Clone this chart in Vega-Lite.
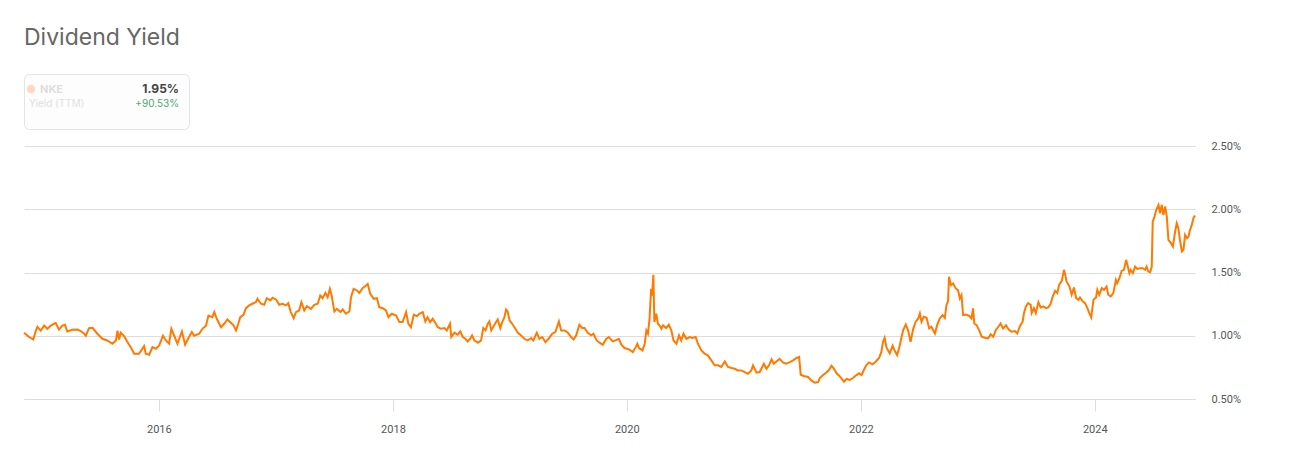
{
  "$schema": "https://vega.github.io/schema/vega-lite/v6.json",
  "background": "white",
  "padding": {"left": 20, "top": 26, "right": 10, "bottom": 10},
  "title": {"text": "Dividend Yield", "anchor": "start", "frame": "group", "fontSize": 23, "fontWeight": 400, "color": "#666666", "font": "Inter", "offset": 24},
  "config": {"view": {"stroke": null}, "font": "Roboto", "concat": {"spacing": 10}},
  "datasets": {
    "legend": [
      {"col": "left", "row": "top", "kind": "name", "text": "NKE"},
      {"col": "left", "row": "bottom", "kind": "sub", "text": "Yield (TTM)"},
      {"col": "right", "row": "top", "kind": "value", "text": "1.95%"},
      {"col": "right", "row": "bottom", "kind": "change", "text": "+90.53%"}
    ],
    "yield": [
      {"date": "2014-11-06", "y": 0.01024}, {"date": "2014-11-22", "y": 0.0099}, {"date": "2014-12-05", "y": 0.0097}, {"date": "2014-12-13", "y": 0.0104}, {"date": "2014-12-18", "y": 0.0107}, {"date": "2014-12-28", "y": 0.0104},
      {"date": "2015-01-08", "y": 0.0108}, {"date": "2015-01-18", "y": 0.01055}, {"date": "2015-01-29", "y": 0.0108}, {"date": "2015-02-08", "y": 0.01095}, {"date": "2015-02-13", "y": 0.011}, {"date": "2015-02-23", "y": 0.0105},
      {"date": "2015-03-06", "y": 0.0108}, {"date": "2015-03-14", "y": 0.01087}, {"date": "2015-03-21", "y": 0.01034}, {"date": "2015-04-06", "y": 0.01047}, {"date": "2015-04-22", "y": 0.0105}, {"date": "2015-05-02", "y": 0.01037},
      {"date": "2015-05-13", "y": 0.01016}, {"date": "2015-05-18", "y": 0.01}, {"date": "2015-05-28", "y": 0.0106}, {"date": "2015-06-08", "y": 0.01063}, {"date": "2015-06-23", "y": 0.01016}, {"date": "2015-07-09", "y": 0.00976},
      {"date": "2015-07-24", "y": 0.00963}, {"date": "2015-08-09", "y": 0.00937}, {"date": "2015-08-20", "y": 0.00963}, {"date": "2015-08-25", "y": 0.0104}, {"date": "2015-08-30", "y": 0.0097}, {"date": "2015-09-04", "y": 0.01024},
      {"date": "2015-09-14", "y": 0.01}, {"date": "2015-09-25", "y": 0.0095}, {"date": "2015-10-05", "y": 0.0091}, {"date": "2015-10-16", "y": 0.00858}, {"date": "2015-10-31", "y": 0.00858}, {"date": "2015-11-16", "y": 0.00918},
      {"date": "2015-11-21", "y": 0.00858}, {"date": "2015-12-02", "y": 0.0085}, {"date": "2015-12-12", "y": 0.0091}, {"date": "2015-12-23", "y": 0.00897}, {"date": "2016-01-02", "y": 0.00924}, {"date": "2016-01-14", "y": 0.01},
      {"date": "2016-01-23", "y": 0.00963}, {"date": "2016-02-02", "y": 0.00937}, {"date": "2016-02-09", "y": 0.01055}, {"date": "2016-02-18", "y": 0.01}, {"date": "2016-02-28", "y": 0.00937}, {"date": "2016-03-13", "y": 0.01034},
      {"date": "2016-03-23", "y": 0.0093}, {"date": "2016-04-02", "y": 0.0098}, {"date": "2016-04-13", "y": 0.0103}, {"date": "2016-04-20", "y": 0.01}, {"date": "2016-05-06", "y": 0.01016}, {"date": "2016-05-16", "y": 0.01055},
      {"date": "2016-05-27", "y": 0.0108}, {"date": "2016-06-04", "y": 0.0116}, {"date": "2016-06-16", "y": 0.01147}, {"date": "2016-06-22", "y": 0.01187}, {"date": "2016-06-30", "y": 0.01134}, {"date": "2016-07-13", "y": 0.01068},
      {"date": "2016-07-23", "y": 0.01095}, {"date": "2016-08-02", "y": 0.01129}, {"date": "2016-08-13", "y": 0.01103}, {"date": "2016-08-21", "y": 0.01082}, {"date": "2016-08-29", "y": 0.01042}, {"date": "2016-09-05", "y": 0.01095},
      {"date": "2016-09-11", "y": 0.01147}, {"date": "2016-09-21", "y": 0.01166}, {"date": "2016-09-29", "y": 0.01218}, {"date": "2016-10-09", "y": 0.0124}, {"date": "2016-10-19", "y": 0.01253}, {"date": "2016-10-30", "y": 0.01266},
      {"date": "2016-11-04", "y": 0.01292}, {"date": "2016-11-15", "y": 0.01253}, {"date": "2016-11-25", "y": 0.01245}, {"date": "2016-12-03", "y": 0.01297}, {"date": "2016-12-14", "y": 0.01279}, {"date": "2016-12-21", "y": 0.013},
      {"date": "2017-01-01", "y": 0.01287}, {"date": "2017-01-11", "y": 0.01245}, {"date": "2017-01-21", "y": 0.01253}, {"date": "2017-02-01", "y": 0.0124}, {"date": "2017-02-08", "y": 0.01258}, {"date": "2017-02-16", "y": 0.01187},
      {"date": "2017-02-25", "y": 0.01139}, {"date": "2017-03-04", "y": 0.01187}, {"date": "2017-03-14", "y": 0.012}, {"date": "2017-03-21", "y": 0.01266}, {"date": "2017-03-30", "y": 0.012}, {"date": "2017-04-07", "y": 0.01234},
      {"date": "2017-04-20", "y": 0.01213}, {"date": "2017-04-30", "y": 0.01245}, {"date": "2017-05-11", "y": 0.01253}, {"date": "2017-05-19", "y": 0.01318}, {"date": "2017-05-26", "y": 0.01297}, {"date": "2017-06-04", "y": 0.01339},
      {"date": "2017-06-11", "y": 0.01305}, {"date": "2017-06-18", "y": 0.01371}, {"date": "2017-06-23", "y": 0.01324}, {"date": "2017-07-02", "y": 0.01192}, {"date": "2017-07-10", "y": 0.01213}, {"date": "2017-07-21", "y": 0.01187},
      {"date": "2017-07-28", "y": 0.01208}, {"date": "2017-08-07", "y": 0.01174}, {"date": "2017-08-18", "y": 0.01192}, {"date": "2017-08-23", "y": 0.01305}, {"date": "2017-08-31", "y": 0.01371}, {"date": "2017-09-11", "y": 0.01358},
      {"date": "2017-09-18", "y": 0.01339}, {"date": "2017-09-28", "y": 0.01376}, {"date": "2017-10-09", "y": 0.01397}, {"date": "2017-10-14", "y": 0.0141}, {"date": "2017-10-22", "y": 0.01332}, {"date": "2017-11-02", "y": 0.01292},
      {"date": "2017-11-12", "y": 0.01297}, {"date": "2017-11-19", "y": 0.01226}, {"date": "2017-11-30", "y": 0.01218}, {"date": "2017-12-10", "y": 0.012}, {"date": "2017-12-18", "y": 0.01147}, {"date": "2017-12-28", "y": 0.01174},
      {"date": "2018-01-11", "y": 0.0116}, {"date": "2018-01-21", "y": 0.01108}, {"date": "2018-01-31", "y": 0.01108}, {"date": "2018-02-11", "y": 0.01187}, {"date": "2018-02-18", "y": 0.01095}, {"date": "2018-02-26", "y": 0.01068},
      {"date": "2018-03-07", "y": 0.01166}, {"date": "2018-03-17", "y": 0.01155}, {"date": "2018-03-24", "y": 0.01174}, {"date": "2018-04-04", "y": 0.01187}, {"date": "2018-04-12", "y": 0.01113}, {"date": "2018-04-19", "y": 0.01147},
      {"date": "2018-04-27", "y": 0.01108}, {"date": "2018-05-05", "y": 0.01134}, {"date": "2018-05-13", "y": 0.01103}, {"date": "2018-05-21", "y": 0.01068}, {"date": "2018-05-31", "y": 0.01055}, {"date": "2018-06-11", "y": 0.01061},
      {"date": "2018-06-18", "y": 0.01042}, {"date": "2018-06-28", "y": 0.01095}, {"date": "2018-07-02", "y": 0.0099}, {"date": "2018-07-12", "y": 0.01024}, {"date": "2018-07-22", "y": 0.01008}, {"date": "2018-07-30", "y": 0.01034},
      {"date": "2018-08-07", "y": 0.0099}, {"date": "2018-08-15", "y": 0.00976}, {"date": "2018-08-22", "y": 0.00955}, {"date": "2018-08-30", "y": 0.00976}, {"date": "2018-09-05", "y": 0.01003}, {"date": "2018-09-12", "y": 0.00963},
      {"date": "2018-09-23", "y": 0.00945}, {"date": "2018-10-03", "y": 0.00963}, {"date": "2018-10-10", "y": 0.01061}, {"date": "2018-10-17", "y": 0.01042}, {"date": "2018-10-24", "y": 0.01095}, {"date": "2018-10-29", "y": 0.01113},
      {"date": "2018-11-04", "y": 0.01042}, {"date": "2018-11-11", "y": 0.01076}, {"date": "2018-11-19", "y": 0.01108}, {"date": "2018-11-24", "y": 0.01129}, {"date": "2018-12-02", "y": 0.01061}, {"date": "2018-12-08", "y": 0.01108},
      {"date": "2018-12-15", "y": 0.01147}, {"date": "2018-12-20", "y": 0.01208}, {"date": "2018-12-25", "y": 0.01192}, {"date": "2018-12-31", "y": 0.01121}, {"date": "2019-01-08", "y": 0.01095}, {"date": "2019-01-18", "y": 0.01055},
      {"date": "2019-01-26", "y": 0.01024}, {"date": "2019-02-05", "y": 0.01003}, {"date": "2019-02-15", "y": 0.00976}, {"date": "2019-02-26", "y": 0.00963}, {"date": "2019-03-08", "y": 0.00982}, {"date": "2019-03-15", "y": 0.00963},
      {"date": "2019-03-26", "y": 0.01024}, {"date": "2019-04-03", "y": 0.00976}, {"date": "2019-04-12", "y": 0.0099}, {"date": "2019-04-22", "y": 0.0095}, {"date": "2019-05-02", "y": 0.00976}, {"date": "2019-05-13", "y": 0.01016},
      {"date": "2019-05-23", "y": 0.01029}, {"date": "2019-06-03", "y": 0.01113}, {"date": "2019-06-10", "y": 0.01042}, {"date": "2019-06-21", "y": 0.01042}, {"date": "2019-07-01", "y": 0.01024}, {"date": "2019-07-11", "y": 0.0099},
      {"date": "2019-07-19", "y": 0.00971}, {"date": "2019-07-27", "y": 0.01003}, {"date": "2019-08-06", "y": 0.01087}, {"date": "2019-08-15", "y": 0.01061}, {"date": "2019-08-22", "y": 0.01061}, {"date": "2019-09-01", "y": 0.01024},
      {"date": "2019-09-12", "y": 0.01003}, {"date": "2019-09-19", "y": 0.01016}, {"date": "2019-09-29", "y": 0.00963}, {"date": "2019-10-08", "y": 0.00945}, {"date": "2019-10-18", "y": 0.00929}, {"date": "2019-10-29", "y": 0.00976},
      {"date": "2019-11-06", "y": 0.0099}, {"date": "2019-11-18", "y": 0.00955}, {"date": "2019-11-27", "y": 0.00963}, {"date": "2019-12-07", "y": 0.00976}, {"date": "2019-12-15", "y": 0.00929}, {"date": "2019-12-25", "y": 0.00903},
      {"date": "2020-01-08", "y": 0.00892}, {"date": "2020-01-20", "y": 0.00871}, {"date": "2020-01-29", "y": 0.0091}, {"date": "2020-02-03", "y": 0.00937}, {"date": "2020-02-08", "y": 0.00903}, {"date": "2020-02-19", "y": 0.00884},
      {"date": "2020-02-26", "y": 0.00937}, {"date": "2020-03-02", "y": 0.01042}, {"date": "2020-03-07", "y": 0.01016}, {"date": "2020-03-12", "y": 0.01134}, {"date": "2020-03-17", "y": 0.01371}, {"date": "2020-03-20", "y": 0.01318},
      {"date": "2020-03-24", "y": 0.01482}, {"date": "2020-03-27", "y": 0.01108}, {"date": "2020-04-02", "y": 0.01174}, {"date": "2020-04-07", "y": 0.01095}, {"date": "2020-04-12", "y": 0.01082}, {"date": "2020-04-18", "y": 0.01055},
      {"date": "2020-04-23", "y": 0.01082}, {"date": "2020-05-03", "y": 0.01061}, {"date": "2020-05-11", "y": 0.01087}, {"date": "2020-05-19", "y": 0.01042}, {"date": "2020-05-26", "y": 0.00963}, {"date": "2020-06-04", "y": 0.00937},
      {"date": "2020-06-12", "y": 0.01003}, {"date": "2020-06-19", "y": 0.00963}, {"date": "2020-06-26", "y": 0.01016}, {"date": "2020-07-05", "y": 0.00976}, {"date": "2020-07-15", "y": 0.0099}, {"date": "2020-07-25", "y": 0.00982},
      {"date": "2020-08-03", "y": 0.0099}, {"date": "2020-08-10", "y": 0.00937}, {"date": "2020-08-21", "y": 0.00884}, {"date": "2020-08-31", "y": 0.00858}, {"date": "2020-09-10", "y": 0.00845}, {"date": "2020-09-21", "y": 0.00805},
      {"date": "2020-10-01", "y": 0.00766}, {"date": "2020-10-12", "y": 0.00766}, {"date": "2020-10-22", "y": 0.00753}, {"date": "2020-11-02", "y": 0.00797}, {"date": "2020-11-12", "y": 0.00753}, {"date": "2020-11-23", "y": 0.00745},
      {"date": "2020-12-03", "y": 0.00739}, {"date": "2020-12-13", "y": 0.00726}, {"date": "2020-12-24", "y": 0.00726}, {"date": "2021-01-03", "y": 0.00713}, {"date": "2021-01-13", "y": 0.007}, {"date": "2021-01-24", "y": 0.00726},
      {"date": "2021-01-29", "y": 0.00766}, {"date": "2021-02-09", "y": 0.00708}, {"date": "2021-02-19", "y": 0.00713}, {"date": "2021-03-04", "y": 0.00779}, {"date": "2021-03-12", "y": 0.00739}, {"date": "2021-03-20", "y": 0.00766},
      {"date": "2021-03-28", "y": 0.00813}, {"date": "2021-04-04", "y": 0.00779}, {"date": "2021-04-12", "y": 0.00797}, {"date": "2021-04-22", "y": 0.00818}, {"date": "2021-05-03", "y": 0.00787}, {"date": "2021-05-13", "y": 0.00779},
      {"date": "2021-05-24", "y": 0.00792}, {"date": "2021-06-03", "y": 0.00805}, {"date": "2021-06-14", "y": 0.00824}, {"date": "2021-06-22", "y": 0.00832}, {"date": "2021-06-27", "y": 0.00692}, {"date": "2021-07-06", "y": 0.00682},
      {"date": "2021-07-20", "y": 0.00674}, {"date": "2021-07-30", "y": 0.00647}, {"date": "2021-08-10", "y": 0.00629}, {"date": "2021-08-20", "y": 0.00634}, {"date": "2021-08-26", "y": 0.00668}, {"date": "2021-09-05", "y": 0.00689},
      {"date": "2021-09-15", "y": 0.0071}, {"date": "2021-09-23", "y": 0.00729}, {"date": "2021-10-01", "y": 0.00763}, {"date": "2021-10-08", "y": 0.00742}, {"date": "2021-10-17", "y": 0.00703}, {"date": "2021-10-25", "y": 0.00684},
      {"date": "2021-11-01", "y": 0.00663}, {"date": "2021-11-09", "y": 0.00637}, {"date": "2021-11-17", "y": 0.00658}, {"date": "2021-11-27", "y": 0.0065}, {"date": "2021-12-08", "y": 0.00668}, {"date": "2021-12-18", "y": 0.00689},
      {"date": "2021-12-26", "y": 0.00703}, {"date": "2022-01-03", "y": 0.00689}, {"date": "2022-01-10", "y": 0.00729}, {"date": "2022-01-18", "y": 0.00768}, {"date": "2022-01-26", "y": 0.00789}, {"date": "2022-02-06", "y": 0.00774},
      {"date": "2022-02-16", "y": 0.00795}, {"date": "2022-02-27", "y": 0.00826}, {"date": "2022-03-06", "y": 0.00874}, {"date": "2022-03-11", "y": 0.00953}, {"date": "2022-03-16", "y": 0.00984}, {"date": "2022-03-22", "y": 0.00905},
      {"date": "2022-04-01", "y": 0.00861}, {"date": "2022-04-10", "y": 0.00921}, {"date": "2022-04-17", "y": 0.00879}, {"date": "2022-04-24", "y": 0.00847}, {"date": "2022-05-02", "y": 0.00921}, {"date": "2022-05-08", "y": 0.00992},
      {"date": "2022-05-13", "y": 0.01045}, {"date": "2022-05-21", "y": 0.01089}, {"date": "2022-05-28", "y": 0.01045}, {"date": "2022-06-05", "y": 0.00953}, {"date": "2022-06-13", "y": 0.01053}, {"date": "2022-06-21", "y": 0.01111},
      {"date": "2022-06-29", "y": 0.01137}, {"date": "2022-07-04", "y": 0.01176}, {"date": "2022-07-09", "y": 0.01111}, {"date": "2022-07-16", "y": 0.0115}, {"date": "2022-07-25", "y": 0.01142}, {"date": "2022-08-02", "y": 0.01058},
      {"date": "2022-08-09", "y": 0.01071}, {"date": "2022-08-20", "y": 0.01018}, {"date": "2022-08-27", "y": 0.01084}, {"date": "2022-09-04", "y": 0.01137}, {"date": "2022-09-13", "y": 0.01163}, {"date": "2022-09-20", "y": 0.01142},
      {"date": "2022-09-25", "y": 0.01242}, {"date": "2022-09-30", "y": 0.01274}, {"date": "2022-10-03", "y": 0.01466}, {"date": "2022-10-09", "y": 0.014}, {"date": "2022-10-16", "y": 0.01413}, {"date": "2022-10-24", "y": 0.01374},
      {"date": "2022-10-31", "y": 0.01361}, {"date": "2022-11-06", "y": 0.01295}, {"date": "2022-11-11", "y": 0.01321}, {"date": "2022-11-16", "y": 0.01163}, {"date": "2022-11-25", "y": 0.01168}, {"date": "2022-12-05", "y": 0.01158},
      {"date": "2022-12-12", "y": 0.01137}, {"date": "2022-12-17", "y": 0.01216}, {"date": "2022-12-21", "y": 0.01097}, {"date": "2022-12-28", "y": 0.01084}, {"date": "2023-01-05", "y": 0.01045}, {"date": "2023-01-13", "y": 0.00992},
      {"date": "2023-01-23", "y": 0.00984}, {"date": "2023-02-02", "y": 0.00979}, {"date": "2023-02-10", "y": 0.01011}, {"date": "2023-02-18", "y": 0.00992}, {"date": "2023-02-26", "y": 0.01045}, {"date": "2023-03-06", "y": 0.01071},
      {"date": "2023-03-13", "y": 0.01097}, {"date": "2023-03-21", "y": 0.01058}, {"date": "2023-03-30", "y": 0.01084}, {"date": "2023-04-06", "y": 0.01053}, {"date": "2023-04-16", "y": 0.01032}, {"date": "2023-04-27", "y": 0.01037},
      {"date": "2023-05-04", "y": 0.01018}, {"date": "2023-05-12", "y": 0.01074}, {"date": "2023-05-21", "y": 0.01113}, {"date": "2023-05-25", "y": 0.01179}, {"date": "2023-05-31", "y": 0.01232}, {"date": "2023-06-07", "y": 0.01258},
      {"date": "2023-06-15", "y": 0.01245}, {"date": "2023-06-18", "y": 0.01179}, {"date": "2023-06-25", "y": 0.01218}, {"date": "2023-07-01", "y": 0.01179}, {"date": "2023-07-09", "y": 0.01266}, {"date": "2023-07-16", "y": 0.01224},
      {"date": "2023-07-24", "y": 0.01232}, {"date": "2023-08-02", "y": 0.01218}, {"date": "2023-08-09", "y": 0.01224}, {"date": "2023-08-16", "y": 0.0125}, {"date": "2023-08-23", "y": 0.01311}, {"date": "2023-08-30", "y": 0.01355},
      {"date": "2023-09-06", "y": 0.01337}, {"date": "2023-09-12", "y": 0.01403}, {"date": "2023-09-20", "y": 0.01434}, {"date": "2023-09-27", "y": 0.01521}, {"date": "2023-09-30", "y": 0.01495}, {"date": "2023-10-05", "y": 0.01429},
      {"date": "2023-10-14", "y": 0.01389}, {"date": "2023-10-21", "y": 0.01324}, {"date": "2023-10-28", "y": 0.01382}, {"date": "2023-11-04", "y": 0.01297}, {"date": "2023-11-11", "y": 0.01284}, {"date": "2023-11-16", "y": 0.01303},
      {"date": "2023-11-25", "y": 0.01271}, {"date": "2023-12-02", "y": 0.01258}, {"date": "2023-12-09", "y": 0.01218}, {"date": "2023-12-15", "y": 0.01179}, {"date": "2023-12-21", "y": 0.01145}, {"date": "2023-12-28", "y": 0.01284},
      {"date": "2024-01-05", "y": 0.01303}, {"date": "2024-01-09", "y": 0.01363}, {"date": "2024-01-15", "y": 0.01324}, {"date": "2024-01-23", "y": 0.01376}, {"date": "2024-01-30", "y": 0.01363}, {"date": "2024-02-07", "y": 0.01389},
      {"date": "2024-02-12", "y": 0.01324}, {"date": "2024-02-20", "y": 0.01311}, {"date": "2024-02-28", "y": 0.01337}, {"date": "2024-03-07", "y": 0.01442}, {"date": "2024-03-11", "y": 0.01416}, {"date": "2024-03-18", "y": 0.01455},
      {"date": "2024-03-25", "y": 0.01513}, {"date": "2024-04-01", "y": 0.01521}, {"date": "2024-04-08", "y": 0.016}, {"date": "2024-04-12", "y": 0.01561}, {"date": "2024-04-18", "y": 0.01495}, {"date": "2024-04-22", "y": 0.01521},
      {"date": "2024-04-29", "y": 0.01495}, {"date": "2024-05-06", "y": 0.01547}, {"date": "2024-05-13", "y": 0.01529}, {"date": "2024-05-22", "y": 0.01534}, {"date": "2024-05-30", "y": 0.01534}, {"date": "2024-06-06", "y": 0.01521},
      {"date": "2024-06-11", "y": 0.01547}, {"date": "2024-06-16", "y": 0.01508}, {"date": "2024-06-22", "y": 0.01503}, {"date": "2024-06-27", "y": 0.01547}, {"date": "2024-06-30", "y": 0.01903}, {"date": "2024-07-04", "y": 0.01929},
      {"date": "2024-07-11", "y": 0.01995}, {"date": "2024-07-18", "y": 0.02034}, {"date": "2024-07-23", "y": 0.01968}, {"date": "2024-07-28", "y": 0.02034}, {"date": "2024-08-02", "y": 0.01955}, {"date": "2024-08-08", "y": 0.02021},
      {"date": "2024-08-13", "y": 0.01942}, {"date": "2024-08-18", "y": 0.01758}, {"date": "2024-08-26", "y": 0.01732}, {"date": "2024-09-01", "y": 0.01705}, {"date": "2024-09-08", "y": 0.01824}, {"date": "2024-09-13", "y": 0.01889},
      {"date": "2024-09-18", "y": 0.0185}, {"date": "2024-09-23", "y": 0.01758}, {"date": "2024-09-29", "y": 0.01666}, {"date": "2024-10-04", "y": 0.01679}, {"date": "2024-10-09", "y": 0.01797}, {"date": "2024-10-15", "y": 0.01771},
      {"date": "2024-10-20", "y": 0.01784}, {"date": "2024-10-23", "y": 0.01824}, {"date": "2024-10-30", "y": 0.01876}, {"date": "2024-11-04", "y": 0.01929}, {"date": "2024-11-09", "y": 0.0195}
    ]
  },
  "vconcat": [
    {
      "width": 165,
      "height": 55,
      "view": {"stroke": "#e4e4e4", "strokeWidth": 1, "cornerRadius": 5, "fill": "#fdfdfd"},
      "data": {"name": "legend"},
      "encoding": {
        "x": {"field": "col", "type": "nominal", "scale": {"type": "point", "domain": ["left", "right"], "range": [16, 155], "padding": 0}, "axis": null},
        "y": {"field": "row", "type": "nominal", "scale": {"type": "point", "domain": ["top", "bottom"], "range": [19, 33], "padding": 0}, "axis": null}
      },
      "layer": [
        {"transform": [{"filter": "datum.kind === 'name'"}], "mark": {"type": "point", "filled": true, "size": 70, "color": "#fed8c0", "opacity": 1, "xOffset": -9, "yOffset": -4}},
        {"transform": [{"filter": "datum.kind === 'name'"}], "mark": {"type": "text", "align": "left", "baseline": "alphabetic", "fontSize": 11, "fontWeight": "bold", "color": "#dedede", "font": "Inter"}, "encoding": {"text": {"field": "text"}}},
        {"transform": [{"filter": "datum.kind === 'sub'"}], "mark": {"type": "text", "align": "left", "baseline": "alphabetic", "fontSize": 10, "color": "#e0e0e0", "dx": -11, "font": "Inter"}, "encoding": {"text": {"field": "text"}}},
        {"transform": [{"filter": "datum.kind === 'value'"}], "mark": {"type": "text", "align": "right", "baseline": "alphabetic", "fontSize": 12, "fontWeight": "bold", "color": "#444444", "font": "Inter"}, "encoding": {"text": {"field": "text"}}},
        {"transform": [{"filter": "datum.kind === 'change'"}], "mark": {"type": "text", "align": "right", "baseline": "alphabetic", "fontSize": 10, "color": "#4aa874", "font": "Inter"}, "encoding": {"text": {"field": "text"}}}
      ]
    },
    {
      "width": 1171,
      "height": 253,
      "data": {"name": "yield"},
      "mark": {"type": "line", "color": "#ff7a00", "strokeWidth": 2, "interpolate": "linear"},
      "encoding": {
        "x": {"field": "date", "type": "temporal", "scale": {"nice": false},
              "axis": {"title": null, "format": "%Y", "tickCount": {"interval": "year", "step": 2}, "grid": false, "domainColor": "#dddddd", "tickColor": "#dddddd", "tickSize": 12, "labelPadding": 12, "labelFontSize": 11, "labelColor": "#555555", "labelFont": "Roboto", "labelFlush": false}},
        "y": {"field": "y", "type": "quantitative", "scale": {"domain": [0.005, 0.025], "nice": false, "zero": false},
              "axis": {"orient": "right", "title": null, "values": [0.005, 0.01, 0.015, 0.02, 0.025], "format": ".2%", "domain": false, "ticks": false, "gridColor": "#dddddd", "labelPadding": 16, "labelFontSize": 11, "labelColor": "#555555", "labelFont": "Roboto"}}
      }
    }
  ]
}
